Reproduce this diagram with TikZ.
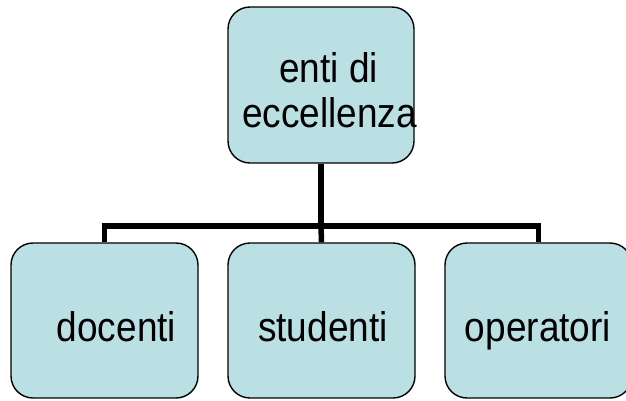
\documentclass[tikz,border=0pt]{standalone}
\usepackage{fontspec}
\usepackage{graphicx}
\setmainfont{Liberation Sans}
\definecolor{boxfill}{RGB}{187,224,227}
\newcommand{\tallt}[1]{\scalebox{1}[1.12]{#1}}
\begin{document}
\begin{tikzpicture}[x=1pt,y=-1pt,
  orgbox/.style={draw=black,line width=1.4pt,fill=boxfill,rounded corners=22pt,inner sep=0pt},
  conn/.style={line width=5.5pt,draw=black},
  lbl/.style={inner sep=0pt,font=\fontsize{37}{45}\selectfont,anchor=base}]
\useasboundingbox (0,0) rectangle (626,400);
\node[orgbox,minimum width=186pt,minimum height=156pt] (top) at (321,85) {};
\node[orgbox,minimum width=187pt,minimum height=155pt] (b1) at (104.5,320.5) {};
\node[orgbox,minimum width=187pt,minimum height=155pt] (b2) at (321.5,320.5) {};
\node[orgbox,minimum width=187pt,minimum height=155pt] (b3) at (538.5,320.5) {};
\coordinate (bar) at (321,226);
\draw[conn] (top.south) -- (top.south |- bar) -| (b1.north);
\draw[conn] (top.south |- bar) -| (b3.north);
\draw[conn] (top.south |- bar) -- (b2.north);
\node[lbl] (t1) at (328.5,82) {\tallt{enti di}};
\node[lbl] (t2) at (329.5,127) {\tallt{eccellenza}};
\node[lbl] (l1) at (116.5,341) {\tallt{docenti}};
\node[lbl] (l2) at (323,341) {\tallt{studenti}};
\node[lbl] (l3) at (538,341) {\tallt{operatori}};
\end{tikzpicture}
\end{document}
